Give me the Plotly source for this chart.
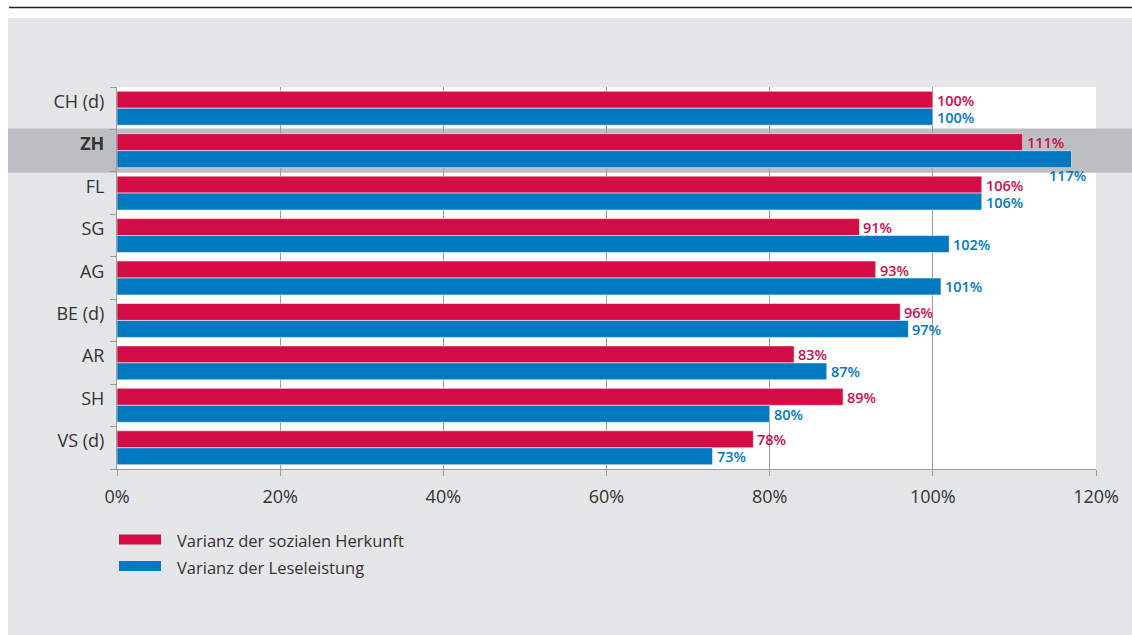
import plotly.graph_objects as go

# Cantons / regions, top to bottom
regions = ["CH (d)", "ZH", "FL", "SG", "AG", "BE (d)", "AR", "SH", "VS (d)"]
highlight = "ZH"

# Variance shares relative to Switzerland (German-speaking part) = 100 %
herkunft = [100, 111, 106, 91, 93, 96, 83, 89, 78]
lesen = [100, 117, 106, 102, 101, 97, 87, 80, 73]

series_names = ["Varianz der sozialen Herkunft", "Varianz der Leseleistung"]
x_ticks = [0, 20, 40, 60, 80, 100, 120]

RED = "#d20c44"
BLUE = "#0079c1"
PANEL = "#e5e6e8"
BAND = "#bdbec1"
AXIS = "#9a9a9a"
TEXT = "#333333"
FONT = "Open Sans"

W, H = 1132, 635
L, R, T, B = 117, 36, 87, 166
PW, PH = W - L - R, H - T - B


def px_x(p):
    return (p - L) / PW


def px_y(p):
    return (H - B - p) / PH


pos = list(range(len(regions)))
off = 0.2
bw = 0.4

fig = go.Figure()
fig.add_trace(go.Bar(
    x=herkunft, y=[p - off for p in pos], width=bw, orientation="h",
    marker=dict(color=RED, line=dict(color="rgba(255,255,255,0.55)", width=1)),
    name=series_names[0], showlegend=False, hoverinfo="x",
))
fig.add_trace(go.Bar(
    x=lesen, y=[p + off for p in pos], width=bw, orientation="h",
    marker=dict(color=BLUE, line=dict(color="rgba(255,255,255,0.55)", width=1)),
    name=series_names[1], showlegend=False, hoverinfo="x",
))

# value labels at the bar ends
annotations = []
for vals, color, d in ((herkunft, RED, -off), (lesen, BLUE, off)):
    for p, v in zip(pos, vals):
        a = dict(x=v, y=p + d, xref="x", yref="y", text=f"{v}%", showarrow=False,
                 font=dict(family=FONT, size=14.5, color=color, weight=600),
                 height=16, valign="middle",
                 xanchor="left", yanchor="middle", xshift=2)
        if v > 115:
            # not enough room before the axis end: put it under the bar
            a.update(xanchor="right", xshift=16, yshift=-16)
        annotations.append(a)

# legend drawn by hand with wide swatches
shapes = [
    # top rule
    dict(type="line", xref="paper", yref="paper", x0=px_x(9), x1=px_x(1132),
         y0=px_y(7.5), y1=px_y(7.5), line=dict(color="#222222", width=1.6), layer="below"),
    # grey panel
    dict(type="rect", xref="paper", yref="paper", x0=px_x(8), x1=px_x(1132),
         y0=px_y(18), y1=px_y(640), fillcolor=PANEL, line=dict(width=0), layer="below"),
    # white plotting area
    dict(type="rect", xref="paper", yref="paper", x0=0, x1=1, y0=0, y1=1,
         fillcolor="white", line=dict(width=0), layer="below"),
    # highlight band for the focus canton
    dict(type="rect", xref="paper", yref="y", x0=px_x(8), x1=px_x(1132),
         y0=regions.index(highlight) - 0.52, y1=regions.index(highlight) + 0.52,
         fillcolor=BAND, line=dict(width=0), layer="below"),
]
legend_y = [539.5, 566]
for name, color, ly in zip(series_names, (RED, BLUE), legend_y):
    shapes.append(dict(type="rect", xref="paper", yref="paper",
                       x0=px_x(119), x1=px_x(161), y0=px_y(ly - 5), y1=px_y(ly + 5),
                       fillcolor=color, line=dict(width=0)))
    annotations.append(dict(x=px_x(175), y=px_y(ly + 1), xref="paper", yref="paper",
                            text=name, showarrow=False, xanchor="left", yanchor="middle",
                            font=dict(family=FONT, size=16.5, color=TEXT)))

ticktext = [f"<b>{r}</b>" if r == highlight else r for r in regions]

fig.update_layout(
    width=W, height=H,
    margin=dict(l=L, r=R, t=T, b=B, pad=0),
    paper_bgcolor="white",
    plot_bgcolor="rgba(0,0,0,0)",
    barmode="overlay",
    shapes=shapes,
    annotations=annotations,
    font=dict(family=FONT, color=TEXT),
    xaxis=dict(
        range=[0, 120], tickvals=x_ticks, ticktext=[f"{t}%" for t in x_ticks],
        showgrid=True, gridcolor=AXIS, gridwidth=1,
        showline=True, linecolor=AXIS, linewidth=1,
        ticks="outside", ticklen=6, tickcolor=AXIS,
        tickfont=dict(family=FONT, size=18, color=TEXT),
        ticklabelstandoff=5, zeroline=False, fixedrange=True,
    ),
    yaxis=dict(
        range=[len(regions) - 0.5, -0.5],
        # labels sit slightly above the middle of each pair of bars
        tickvals=[p - 0.16 for p in pos], ticktext=ticktext,
        showgrid=False, zeroline=False,
        showline=True, linecolor=AXIS, linewidth=1,
        ticks="",
        minor=dict(tickvals=[p - 0.5 for p in pos] + [len(regions) - 0.5],
                   ticks="outside", ticklen=6, tickcolor=AXIS, showgrid=False),
        tickfont=dict(family=FONT, size=18, color=TEXT),
        ticklabelstandoff=8, fixedrange=True,
    ),
)

fig.write_html("out.html")
